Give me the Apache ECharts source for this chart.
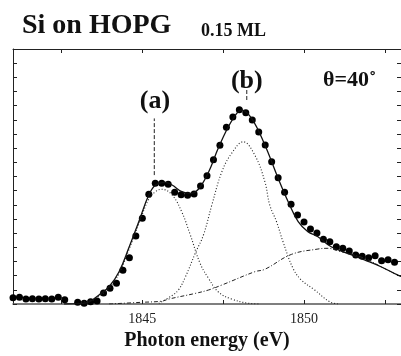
<!DOCTYPE html>
<html><head><meta charset="utf-8">
<script src="https://cdn.jsdelivr.net/npm/echarts@6/dist/echarts.min.js"></script>
<style>html,body{margin:0;padding:0;background:#fff}#c{width:401px;height:356px}</style>
</head><body><div id="c"></div>
<script>
// ---- data ----
const dotEnergy = [1841.0,1841.2,1841.4,1841.6,1841.8,1842.0,1842.2,1842.4,1842.6,
  1843.0,1843.2,1843.4,1843.6,1843.8,1844.0,1844.2,1844.4,1844.6,1844.8,1845.0,
  1845.2,1845.4,1845.6,1845.8,1846.0,1846.2,1846.4,1846.6,1846.8,1847.0,
  1847.2,1847.4,1847.6,1847.8,1848.0,1848.2,1848.4,1848.6,1848.8,1849.0,
  1849.2,1849.4,1849.6,1849.8,1850.0,1850.2,1850.4,1850.6,1850.8,1851.0,
  1851.2,1851.4,1851.6,1851.8,1852.0,1852.2,1852.4,1852.6,1852.8];
const dotIntensity = [0.44,0.47,0.35,0.37,0.35,0.37,0.35,0.47,0.30,
  0.12,0.05,0.16,0.21,0.78,1.11,1.46,2.38,3.27,4.80,6.05,
  7.74,8.52,8.52,8.45,7.88,7.71,7.67,7.76,8.33,9.05,
  10.18,11.20,12.47,13.20,13.71,13.50,12.99,12.14,11.22,10.04,
  8.91,7.88,7.04,6.28,5.79,5.29,5.01,4.57,4.40,4.04,
  3.93,3.74,3.46,3.37,3.27,3.41,3.06,3.13,2.94];

const fitEnergy = [1842.58,1843.05,1843.35,1843.66,1843.97,1844.28,1844.58,1844.89,1845.2,1845.41,
  1845.71,1845.92,1846.22,1846.48,1846.74,1847.05,1847.35,1847.66,1847.92,1848.07,
  1848.38,1848.79,1849.2,1849.51,1849.82,1850.12,1850.43,1850.84,1851.35,1851.87,1852.38,1852.89,1853.0];
const fitIntensity = [0.0,0.02,0.14,0.64,1.22,2.28,3.95,5.81,7.69,8.40,
  8.59,8.40,7.93,7.81,8.12,9.32,11.01,12.51,13.46,13.69,
  13.11,11.22,8.87,7.22,5.81,5.10,4.75,4.04,3.58,3.11,2.63,2.05,1.95];

const peakAEnergy = [1842.92,1843.44,1843.66,1843.97,1844.28,1844.58,1844.89,1845.2,1845.42,1845.6,
  1845.92,1846.22,1846.48,1846.79,1847.05,1847.35,1847.76,1848.28,1848.6];
const peakAIntensity = [0.0,0.3,0.55,1.1,2.15,3.8,5.65,7.4,7.95,8.1,
  7.7,6.5,4.9,2.85,1.8,0.85,0.35,0.05,0.0];

const peakBEnergy = [1845.51,1845.92,1846.12,1846.33,1846.64,1846.89,1847.15,1847.46,1847.76,1848.12,
  1848.48,1848.79,1848.94,1849.15,1849.35,1849.66,1849.92,1850.33,1850.79,1851.05];
const peakBIntensity = [0.05,0.6,1.0,1.9,3.6,4.87,6.99,9.34,10.63,11.45,
  10.5,8.63,6.99,5.81,4.4,2.52,1.69,0.99,0.16,0.0];

const bgEnergy = [1843.97,1844.98,1845.6,1845.82,1846.64,1847.05,1847.46,1848.48,1848.79,1849.61,
  1850.43,1850.74,1851.05,1851.87,1852.38,1852.89,1853.0];
const bgIntensity = [0.0,0.12,0.2,0.35,0.75,0.99,1.34,2.28,2.45,3.5,
  3.88,3.93,3.75,3.23,2.63,2.05,1.95];

const markerEnergy = [1845.37, 1848.23];
const markerLow = [9.1, 14.4];
const markerHigh = [13.1, 15.3];
const markerNames = ['(a)', '(b)'];
const markerLabelEnergy = [1845.39, 1848.23];
const markerLabelY = [14.3, 15.75];

const xTickValues = [1842.5, 1845, 1847.5, 1850, 1852.5];
const xLabelValues = [1845, 1850];

// ---- chart ----
const zip = (a, b) => a.map((v, i) => [v, b[i]]);
const serif = "'Liberation Serif', 'Times New Roman', serif";
const chart = echarts.init(document.getElementById('c'), null, {renderer: 'canvas'});

const markerSeries = markerEnergy.map((e, i) => ({
  type: 'line', xAxisIndex: 0, yAxisIndex: 0, symbol: 'none', silent: true,
  data: [[e, markerLow[i]], [e, markerHigh[i]]],
  lineStyle: {color: '#222', width: 1, type: [4, 2]}
}));

chart.setOption({
  animation: false,
  backgroundColor: '#fff',
  grid: {left: 13, top: 49, width: 390, height: 255, containLabel: false},
  xAxis: [
    {type: 'value', min: 1841, max: 1853, position: 'bottom',
     axisLine: {onZero: false, lineStyle: {color: '#555', width: 1.5}},
     axisTick: {inside: true, length: 4, customValues: xTickValues, lineStyle: {color: '#222'}},
     axisLabel: {customValues: xLabelValues, formatter: v => String(v), fontFamily: serif, fontSize: 14, color: '#222', margin: 8},
     splitLine: {show: false},
     name: 'Photon energy (eV)', nameLocation: 'middle', nameGap: 27,
     nameTextStyle: {fontFamily: serif, fontWeight: 'bold', fontSize: 20, color: '#111'}},
    {type: 'value', min: 1841, max: 1853, position: 'top',
     axisLine: {onZero: false, lineStyle: {color: '#222', width: 1}},
     axisTick: {inside: true, length: 4, customValues: xTickValues, lineStyle: {color: '#222'}},
     axisLabel: {show: false}, splitLine: {show: false}}
  ],
  yAxis: [
    {type: 'value', min: 0, max: 18, interval: 1, position: 'left',
     axisLine: {show: true, onZero: false, lineStyle: {color: '#222', width: 1}},
     axisTick: {show: true, inside: true, length: 4, lineStyle: {color: '#222'}},
     axisLabel: {show: false}, splitLine: {show: false}},
    {type: 'value', min: 0, max: 18, interval: 1, position: 'right',
     axisLine: {show: true, onZero: false, lineStyle: {color: '#222', width: 1}},
     axisTick: {show: true, inside: true, length: 4, lineStyle: {color: '#222'}},
     axisLabel: {show: false}, splitLine: {show: false}}
  ],
  series: [
    {type: 'line', name: 'background', data: zip(bgEnergy, bgIntensity), symbol: 'none', smooth: 0.4,
     lineStyle: {color: '#222', width: 1, type: [4, 2, 1, 2]}},
    {type: 'line', name: 'peak a', data: zip(peakAEnergy, peakAIntensity), symbol: 'none', smooth: 0.4,
     lineStyle: {color: '#222', width: 1.1, type: [1, 2]}},
    {type: 'line', name: 'peak b', data: zip(peakBEnergy, peakBIntensity), symbol: 'none', smooth: 0.4,
     lineStyle: {color: '#222', width: 1.1, type: [1, 2]}},
    {type: 'line', name: 'fit', data: zip(fitEnergy, fitIntensity), symbol: 'none', smooth: 0.4,
     lineStyle: {color: '#111', width: 1.3}},
    {type: 'scatter', name: 'data', data: zip(dotEnergy, dotIntensity), symbol: 'circle', symbolSize: 7,
     itemStyle: {color: '#000', opacity: 1}},
    ...markerSeries,
    {type: 'scatter', name: 'labels', silent: true, symbolSize: 0,
     itemStyle: {color: '#111', opacity: 1},
     data: markerNames.map((n, i) => ({name: n, value: [markerLabelEnergy[i], markerLabelY[i]]})),
     label: {show: true, position: 'inside', formatter: p => p.name, fontFamily: serif, fontWeight: 'bold',
       fontSize: 26, color: '#111', opacity: 1}}
  ],
  graphic: [
    {type: 'text', left: 22, top: 12, style: {text: 'Si on HOPG', font: "bold 28px " + serif, fill: '#111'}},
    {type: 'text', left: 201, top: 22, style: {text: '0.15 ML', font: "bold 18px " + serif, fill: '#111'}},
    {type: 'text', left: 323, top: 69, style: {text: 'θ=40˚', font: "bold 22px " + serif, fill: '#111'}}
  ]
});
</script></body></html>
